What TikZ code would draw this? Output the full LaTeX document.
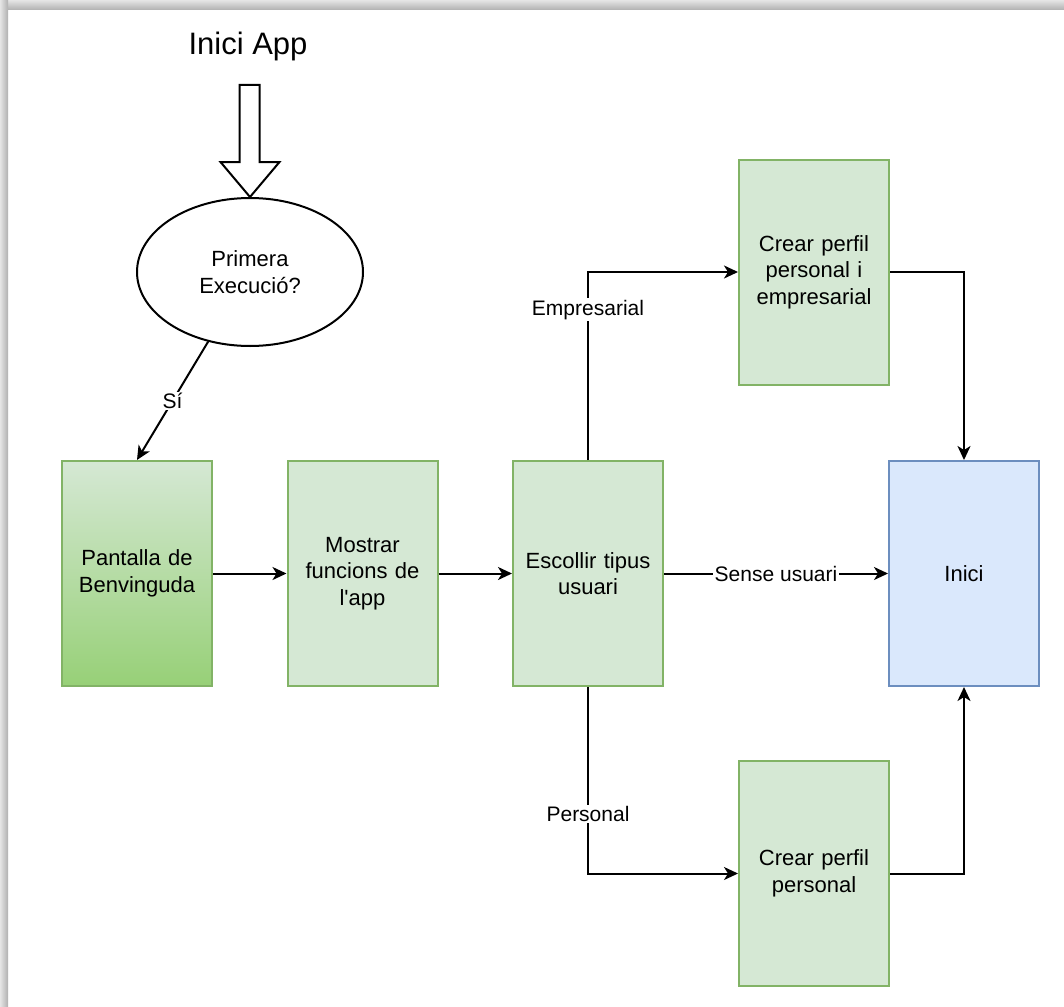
\documentclass[tikz,border=0pt]{standalone}
\usepackage{fontspec}
\setmainfont{Liberation Sans}[Ligatures=TeXOff]
\usetikzlibrary{arrows.meta,shapes.geometric,calc}
\definecolor{greenfill}{HTML}{D5E8D4}
\definecolor{greenline}{HTML}{82B366}
\definecolor{greendeep}{HTML}{97D077}
\definecolor{bluefill}{HTML}{DAE8FC}
\definecolor{blueline}{HTML}{6C8EBF}

\begin{document}
\begin{tikzpicture}[x=1pt,y=-1pt,
  stepbox/.style={draw=greenline, fill=greenfill, line width=2pt,
    minimum width=150pt, minimum height=225pt, inner sep=0pt,
    align=center, text width=140pt, font=\fontsize{22}{26.5}\selectfont},
  flow/.style={line width=2pt, -{Stealth[length=14pt,width=13pt,inset=4pt]}},
  lbl/.style={fill=white, inner sep=1.5pt, font=\fontsize{21}{25}\selectfont}
]
% page and shadow frame
\useasboundingbox (0,0) rectangle (1064,1006);
\fill[white] (0,0) rectangle (1064,1006);
\shade[top color=gray!20, bottom color=gray!62] (0,0) rectangle (1064,10);
\shade[left color=gray!20, right color=gray!62] (0,0) rectangle (8,1006);

% title and start
\node[font=\fontsize{31}{36}\selectfont, anchor=base] (title) at (248,55) {Inici App};
\node[draw, ellipse, line width=2pt, minimum width=226pt, minimum height=148pt,
      inner sep=0pt, align=center, font=\fontsize{22}{26.5}\selectfont]
      (first) at (250,272) {Primera\\Execució?};

% hollow block arrow into the decision
\draw[line width=2pt, fill=white, line join=miter]
  ($(first.north)+(-10.5,-112)$) -- ++(20,0) -- ++(0,77) -- ++(20,0)
  -- (first.north) -- ++(-29.5,-35) -- ++(19,0) -- cycle;

% process boxes
\node[stepbox, shading=axis, top color=greenfill, bottom color=greendeep]
      (welcome) at (137,573.5) {Pantalla de\\Benvinguda};
\node[stepbox] (features) at (362.5,573.5) {Mostrar\\funcions de\\l'app};
\node[stepbox] (choose) at (588,573.5) {Escollir tipus\\usuari};
\node[stepbox] (business) at (814,272) {Crear perfil\\personal i\\empresarial};
\node[stepbox] (personal) at (814,873.5) {Crear perfil\\personal};
\node[stepbox, draw=blueline, fill=bluefill] (home) at (964,573.5) {Inici};

% connectors
\draw[flow] (first) -- node[lbl] {Sí} (welcome.north);
\draw[flow] (welcome) -- (features);
\draw[flow] (features) -- (choose);
\draw[flow] (choose) -- node[lbl] {Sense usuari} (home);
\draw[flow] (choose.north) |- node[lbl, pos=0.4] {Empresarial} (business.west);
\draw[flow] (choose.south) |- node[lbl, pos=0.34] {Personal} (personal.west);
\draw[flow] (business.east) -| (home.north);
\draw[flow] (personal.east) -| (home.south);
\end{tikzpicture}
\end{document}
